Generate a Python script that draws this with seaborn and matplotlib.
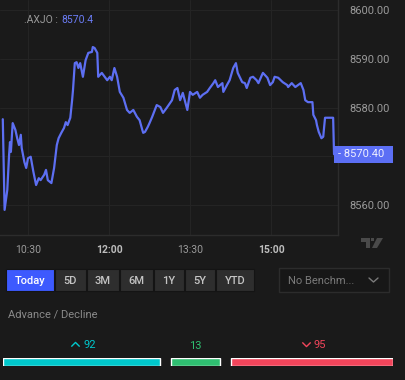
import pandas as pd
import numpy as np
import matplotlib
matplotlib.use('Agg')
import matplotlib.pyplot as plt
import seaborn as sns
from matplotlib.patches import Rectangle, Polygon
from matplotlib.path import Path
from matplotlib.transforms import blended_transform_factory, offset_copy

# Intraday .AXJO prices
times = ['10:02', '10:04', '10:07', '10:09', '10:10', '10:11', '10:13', '10:16', '10:18', '10:20',
         '10:22', '10:23', '10:26', '10:28', '10:30', '10:33', '10:36', '10:39', '10:42', '10:44',
         '10:48', '10:50', '10:52', '10:56', '10:59', '11:02', '11:04', '11:07', '11:10', '11:12',
         '11:14', '11:17', '11:19', '11:20', '11:22', '11:24', '11:26', '11:28', '11:31', '11:34',
         '11:37', '11:41', '11:42', '11:44', '11:47', '11:48', '11:52', '11:58', '12:01', '12:03',
         '12:06', '12:09', '12:12', '12:16', '12:20', '12:23', '12:27', '12:31', '12:34', '12:37',
         '12:38', '12:40', '12:43', '12:45', '12:48', '12:53', '12:57', '13:00', '13:04', '13:10',
         '13:13', '13:16', '13:19', '13:22', '13:27', '13:30', '13:33', '13:38', '13:41', '13:44',
         '13:49', '13:52', '13:56', '13:58', '14:01', '14:06', '14:07', '14:11', '14:14', '14:18',
         '14:21', '14:23', '14:28', '14:31', '14:33', '14:37', '14:40', '14:44', '14:46', '14:50',
         '14:51', '14:56', '14:59', '15:02', '15:04', '15:08', '15:13', '15:18', '15:19', '15:23',
         '15:27', '15:30', '15:33', '15:36', '15:38', '15:41', '15:46', '15:47', '15:50', '15:51',
         '15:53', '15:56', '15:58', '15:59', '16:00', '16:09', '16:10']
prices = [8577.6, 8559.0, 8563.1, 8570.3, 8572.9, 8570.9, 8576.8, 8575.4, 8573.7, 8572.3,
          8574.4, 8571.7, 8568.8, 8567.6, 8569.6, 8569.9, 8566.8, 8564.1, 8565.5, 8565.1,
          8566.2, 8567.2, 8565.1, 8564.5, 8567.6, 8572.3, 8573.7, 8574.8, 8575.8, 8577.0,
          8576.4, 8577.9, 8581.5, 8583.6, 8589.1, 8589.3, 8588.1, 8589.1, 8586.3, 8589.7,
          8591.2, 8591.4, 8592.4, 8592.2, 8591.2, 8586.3, 8587.1, 8585.6, 8586.3, 8585.6,
          8588.1, 8586.3, 8583.2, 8582.0, 8579.5, 8578.9, 8579.5, 8578.1, 8577.4, 8575.4,
          8574.8, 8575.0, 8576.0, 8576.8, 8578.1, 8580.5, 8580.1, 8578.9, 8579.9, 8581.5,
          8583.6, 8584.0, 8581.5, 8583.0, 8579.5, 8583.2, 8582.6, 8583.2, 8582.0, 8582.6,
          8583.2, 8584.0, 8585.0, 8585.6, 8584.2, 8585.0, 8583.2, 8584.6, 8585.6, 8588.1,
          8589.1, 8587.1, 8585.2, 8585.0, 8584.0, 8586.1, 8586.3, 8585.6, 8585.0, 8586.7,
          8587.1, 8586.1, 8584.6, 8585.2, 8586.3, 8586.1, 8585.2, 8584.6, 8584.2, 8585.0,
          8584.2, 8584.6, 8585.0, 8583.6, 8581.5, 8581.1, 8581.1, 8578.5, 8577.4, 8576.4,
          8575.0, 8573.7, 8574.0, 8576.0, 8577.9, 8577.9, 8570.4]
last_price = 8570.40

y_ticks = [8560, 8570, 8580, 8590, 8600]
x_tick_times = ['10:30', '12:00', '13:30', '15:00']

ranges = ['Today', '5D', '3M', '6M', '1Y', '5Y', 'YTD']

breadth_labels = ['Advance', 'Unchanged', 'Decline']
breadth_counts = [92, 13, 95]

# colours
BG = '#1a1a1a'
LINE = '#5d6ff2'
GRID = '#242424'
TXT = '#9a9a9a'

W, H = 405, 380


def px_box(x0, y0, x1, y1):
    return [x0 / W, 1 - y1 / H, (x1 - x0) / W, (y1 - y0) / H]


def minutes(t):
    h, m = t.split(':')
    return (int(h) - 10) * 60 + int(m)


sns.set_style('dark')
plt.rcParams['font.family'] = ['Roboto', 'DejaVu Sans']

df = pd.DataFrame({'t': [minutes(t) for t in times], 'price': prices})

fig = plt.figure(figsize=(W / 100, H / 100), dpi=100, facecolor=BG)

# overlay in pixel units for the UI bits
ui = fig.add_axes([0, 0, 1, 1])
ui.set_xlim(0, W)
ui.set_ylim(H, 0)
ui.axis('off')
ui.set_facecolor('none')

# price chart
ax = fig.add_axes(px_box(0, 0, 338, 235))
ax.set_facecolor(BG)
sns.lineplot(data=df, x='t', y='price', ax=ax, color=LINE, linewidth=1.6)
ax.set_xlim(-1.1, 374.4)
ax.set_ylim(8553.85, 8602.05)
ax.set_xlabel('')
ax.set_ylabel('')

# the 8570 label sits under the last-price tag, so it is left blank
ax.set_yticks(y_ticks)
ax.set_yticklabels(['' if v == 8570 else f'{v:.2f}' for v in y_ticks])
ax.yaxis.tick_right()
ax.tick_params(axis='y', length=0, pad=8, labelsize=8, labelcolor=TXT)

ax.set_xticks([minutes(t) for t in x_tick_times])
ax.set_xticklabels(x_tick_times)
ax.tick_params(axis='x', length=0, pad=7, labelsize=7.5, labelcolor=TXT)
for lab in ax.get_xticklabels():
    if lab.get_text().endswith(':00'):
        lab.set_fontweight('bold')
        lab.set_color('#bdbdbd')

ax.grid(True, color=GRID, linewidth=0.8)
for side in ['top', 'left']:
    ax.spines[side].set_visible(False)
for side in ['right', 'bottom']:
    ax.spines[side].set_color('#2c2c2c')
    ax.spines[side].set_linewidth(1)

# last price tag on the axis
ax.text(1.0, last_price, f'- {last_price:.2f}  ', transform=ax.get_yaxis_transform(),
        ha='left', va='center', fontsize=8, color='#f0f0ff', clip_on=False, zorder=5,
        bbox=dict(boxstyle='square,pad=0.32', facecolor='#5c6ff5', edgecolor='none'))

# symbol header
ax.text(0.07, 0.915, '.AXJO : ', transform=ax.transAxes, fontsize=7.5, color=TXT,
        ha='left', va='center')
ax.annotate(f'{last_price:.1f}', xy=(0.07, 0.915), xycoords='axes fraction',
            xytext=(27.5, 0), textcoords='offset points', fontsize=7.5, color='#6b7cf5',
            ha='left', va='center')

# TradingView logo
ui.add_patch(Polygon([(361, 238), (370, 238), (370, 248), (366, 248), (366, 242), (361, 242)],
                     closed=True, facecolor='#4a4a4a', edgecolor='none'))
ui.add_patch(Polygon([(371, 238), (374, 238), (374, 241), (371, 241)], closed=True,
                     facecolor='#4a4a4a', edgecolor='none'))
ui.add_patch(Polygon([(377, 238), (383, 238), (377, 248), (372, 248)], closed=True,
                     facecolor='#4a4a4a', edgecolor='none'))

# range buttons
edges = [6, 55, 87, 120, 154, 185, 216, 255]
for i, lab in enumerate(ranges):
    x0, x1 = edges[i], edges[i + 1] - 1
    fc = '#3d5afe' if i == 0 else '#2e2e2e'
    ui.add_patch(Rectangle((x0, 269), x1 - x0, 22, facecolor=fc, edgecolor='#141414', linewidth=0.8))
    ui.text((x0 + x1) / 2, 280.5, lab, ha='center', va='center', fontsize=8,
            color='#ffffff' if i == 0 else '#c4c4c4', fontweight='medium')

# benchmark dropdown
ui.add_patch(Rectangle((279, 268), 110, 24, facecolor='#171717', edgecolor='#2c2c2c', linewidth=1))
ui.text(288, 280.5, 'No Benchm...', ha='left', va='center', fontsize=8, color='#7a7a7a')
ui.plot([369, 373.5, 378], [278, 282, 278], color='#7a7a7a', linewidth=1)

ui.text(8, 315, 'Advance / Decline', ha='left', va='center', fontsize=8, color='#8a8a8a')

# advance / decline bars; the small middle group is given a minimum width
bar_cols = ['#00c8cc', '#2fbf71', '#f2455b']
shown = [max(c, 29) for c in breadth_counts]
gap = 6
lefts = np.concatenate([[0], np.cumsum(np.array(shown) + gap)[:-1]])
bx = fig.add_axes(px_box(3, 358, 393, 366))
bx.barh([0, 0, 0], shown, left=lefts, height=1, color=bar_cols)
bx.set_xlim(0, sum(shown) + 2 * gap)
bx.set_ylim(-0.5, 0.5)
bx.axis('off')

up = Path([(-1, -0.5), (0, 0.5), (1, -0.5)], [Path.MOVETO, Path.LINETO, Path.LINETO])
down = Path([(-1, 0.5), (0, -0.5), (1, 0.5)], [Path.MOVETO, Path.LINETO, Path.LINETO])
chevrons = [up, None, down]
top = blended_transform_factory(bx.transData, bx.transAxes)
for lab, c, s, l, col, ch in zip(breadth_labels, breadth_counts, shown, lefts, bar_cols, chevrons):
    mid = l + s / 2
    if ch is None:
        bx.annotate(f'{c}', xy=(mid, 1), xycoords=top, xytext=(0, 8.5),
                    textcoords='offset points', ha='center', va='center', fontsize=8, color=col)
    else:
        bx.annotate(f'{c}', xy=(mid, 1), xycoords=top, xytext=(1.5, 9.5),
                    textcoords='offset points', ha='left', va='center', fontsize=8, color=col)
        tr = offset_copy(top, fig=fig, x=-4.5, y=10, units='points')
        bx.plot([mid], [1], marker=ch, markersize=6, markerfacecolor='none',
                markeredgecolor=col, markeredgewidth=1, transform=tr, clip_on=False)

fig.savefig('out.png', dpi=100, facecolor=BG)
